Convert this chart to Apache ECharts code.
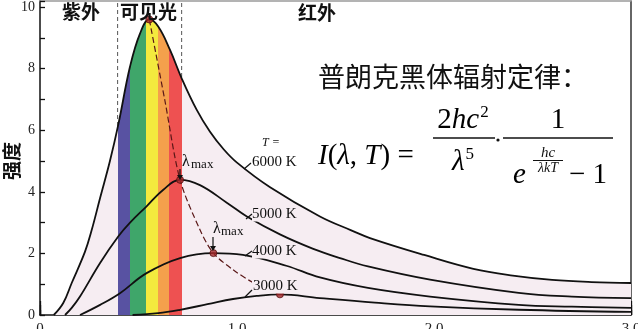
<!DOCTYPE html>
<html><head><meta charset="utf-8">
<script src="https://cdn.jsdelivr.net/npm/echarts@6/dist/echarts.min.js"></script>
<style>html,body{margin:0;padding:0;background:#fff}#c{width:638px;height:329px}</style>
</head><body><div id="c"></div>
<script>
// ---- data (x: wavelength, y: intensity) ----
const curve6000 = [[0.07,0],[0.118,0.39],[0.161,1.04],[0.228,2.05],[0.262,2.75],[0.305,3.8],[0.355,5.0],[0.398,6.2],[0.457,8.07],[0.508,9.15],[0.555,9.6],[0.6,9.37],[0.66,8.61],[0.719,7.69],[0.795,6.67],[0.863,5.95],[0.93,5.4],[1.0,4.95],[1.168,4.15],[1.421,3.2],[1.58,2.75],[1.675,2.5],[1.95,1.95],[2.2,1.5],[2.4,1.28],[2.6,1.14],[2.8,1.07],[3.0,1.04]];
const curve5000 = [[0.127,0],[0.161,0.23],[0.203,0.6],[0.305,1.69],[0.397,2.55],[0.457,3.0],[0.541,3.53],[0.626,4.07],[0.711,4.39],[0.812,4.22],[0.95,3.64],[1.05,3.2],[1.218,2.62],[1.387,2.15],[1.523,1.85],[1.665,1.58],[1.98,1.15],[2.43,0.72],[2.7,0.6],[3.0,0.55]];
const curve4000 = [[0.203,0],[0.305,0.33],[0.406,0.71],[0.541,1.36],[0.711,1.85],[0.88,2.01],[1.03,1.95],[1.25,1.6],[1.421,1.22],[1.665,0.88],[1.98,0.6],[2.43,0.33],[2.7,0.27],[3.0,0.23]];
const curve3000 = [[0.47,0],[0.6,0.06],[0.711,0.17],[0.85,0.35],[0.98,0.52],[1.1,0.62],[1.218,0.67],[1.42,0.55],[1.7,0.4],[1.98,0.28],[2.43,0.17],[3.0,0.1]];
const peaks = [[0.555,9.6],[0.711,4.39],[0.88,2.01],[1.218,0.67]];
const lambdaMaxLocus = [[0.555,9.6],[0.633,7.0],[0.711,4.39],[0.812,2.77],[0.88,2.01],[0.98,1.47],[1.083,1.05],[1.218,0.67]];
const bandEdges = [0.394,0.457,0.538,0.599,0.656,0.719];
const bandColors = ['#5852a2','#3fa66a','#f3ea3e','#f4a04c','#ee5151'];
const xTickLabels = ['0','1.0','2.0','3.0'];
const yMax = 10.2, xMax = 3;

const pink = '#f6edf2';
const serif = 'Liberation Serif';
const cjk = 'Noto Sans CJK SC';

const pieces = [{lt: bandEdges[0], color: pink}];
for (let i = 0; i < bandColors.length; i++) pieces.push({gte: bandEdges[i], lt: bandEdges[i+1], color: bandColors[i]});
pieces.push({gte: bandEdges[bandEdges.length-1], color: pink});

const grid = {left:40, right:7, top:1, bottom:14, outerBoundsMode:'none', containLabel:false};
const baseX = {type:'value', min:0, max:xMax, gridIndex:0, position:'bottom', splitLine:{show:false}, axisLabel:{show:false}};
const chart = echarts.init(document.getElementById('c'), null, {renderer:'canvas'});

function txt(text, x, y, font, extra) {
  return Object.assign({type:'text', x:x, y:y, z:100, silent:true,
    style: Object.assign({text:text, font:font, fill:'#111', align:'left', verticalAlign:'middle', textAlign:'left', textVerticalAlign:'middle'}, extra||{})});
}
function line(x1,y1,x2,y2,w,c){return {type:'line', z:100, silent:true, shape:{x1,y1,x2,y2}, style:{stroke:c||'#111', lineWidth:w||1.2}};}
function tri(x,y){return {type:'polygon', z:100, silent:true, shape:{points:[[x-3,y-5],[x+3,y-5],[x,y]]}, style:{fill:'#111'}};}

const rich = {
  i:{fontFamily:serif, fontStyle:'italic', fontSize:29, color:'#111'},
  n:{fontFamily:serif, fontSize:29, color:'#111'},
  s:{fontFamily:serif, fontSize:17, color:'#111', verticalAlign:'top', padding:[0,0,14,1]}
};
function rt(text, x, y, align, r) {
  return {type:'text', x:x, y:y, z:100, silent:true, style:{text:text, rich:r||rich, align:align||'left', verticalAlign:'middle', textAlign:align||'left', textVerticalAlign:'middle'}};
}

const graphics = [
  txt('紫外', 62, 12, 'bold 19px "'+cjk+'"'),
  txt('可见光', 120, 12, 'bold 19px "'+cjk+'"'),
  txt('红外', 298, 13, 'bold 19px "'+cjk+'"'),
  txt('强度', 12, 161, 'bold 19px "'+cjk+'"', {align:'center', textAlign:'center'}),
  txt('普朗克黑体辐射定律：', 318, 77, '27px "'+cjk+'"'),
  txt('T =', 262, 143, 'italic 12px "'+serif+'"'),
  txt('6000 K', 252, 162, '15px "'+serif+'"'),
  txt('5000 K', 252, 214, '15px "'+serif+'"', {backgroundColor: pink}),
  txt('4000 K', 252, 251, '15px "'+serif+'"', {backgroundColor: pink}),
  txt('3000 K', 252, 286, '15px "'+serif+'"', {backgroundColor: pink, padding:[0,1,0,1]}),
  line(244,169,251,163), line(246,219,252,214), line(245,256,252,251), line(245,297,252,290),
  txt('λ', 182, 162, '16px "'+serif+'"'), txt('max', 191, 165, '13px "'+serif+'"'),
  line(180,169,180,176), tri(180,180),
  txt('λ', 213, 229, '16px "'+serif+'"'), txt('max', 221, 232, '13px "'+serif+'"'),
  line(213,237,213,247), tri(213,251),
  // formula
  rt('{i|I}{n|(}{i|λ}{n|, }{i|T}{n|) =}', 318, 156),
  rt('{n|2}{i|hc}{s|2}', 463, 120, 'center'),
  line(433,138,495,138,1.5),
  rt('{i|λ}{s|5}', 463, 162, 'center'),
  {type:'circle', z:100, silent:true, shape:{cx:498, cy:140, r:1.6}, style:{fill:'#111'}},
  rt('{n|1}', 558, 120, 'center'),
  line(503,138,613,138,1.5),
  rt('{i|e}', 513, 175),
  txt('hc', 548, 153, 'italic 15px "'+serif+'"', {align:'center', textAlign:'center'}),
  line(533,160.5,563,160.5,1),
  txt('λkT', 548, 168, 'italic 14px "'+serif+'"', {align:'center', textAlign:'center'}),
  rt('{n|− 1}', 569, 175)
];
// rotate the y-axis title like an axis name
graphics[3].rotation = Math.PI / 2;

const curveLine = (name, data, z, extra) => Object.assign({
  name, type:'line', data, smooth:0.4, symbol:'none', silent:true, z:z,
  lineStyle:{color:'#111', width:1.8}
}, extra||{});

const option = {
  animation:false,
  backgroundColor:'#fff',
  grid: grid,
  visualMap: {type:'piecewise', show:false, dimension:0, seriesIndex:0, pieces: pieces, outOfRange:{color:pink}},
  xAxis: [
    Object.assign({}, baseX, {interval:0.1, axisLine:{show:true, onZero:false, lineStyle:{color:'#111', width:1.5}}, axisTick:{show:true, inside:true, length:5, lineStyle:{color:'#111', width:1.3}}}),
    Object.assign({}, baseX, {interval:0.5, axisLine:{show:false}, axisTick:{show:true, inside:true, length:10, lineStyle:{color:'#111', width:1.3}}}),
    Object.assign({}, baseX, {interval:1, axisLine:{show:false}, axisTick:{show:true, inside:true, length:14, lineStyle:{color:'#111', width:1.3}},
      axisLabel:{show:true, margin:7, fontFamily:serif, fontSize:15, color:'#222', formatter:(v)=> xTickLabels[Math.round(v)]}}),
    Object.assign({}, baseX, {position:'top', axisLine:{show:true, onZero:false, lineStyle:{color:'#9a9a9a', width:1.5}}, axisTick:{show:false}})
  ],
  yAxis: [
    {type:'value', min:0, max:yMax, interval:1, position:'left', splitLine:{show:false},
     axisLine:{show:true, onZero:false, lineStyle:{color:'#111', width:1.5}},
     axisTick:{show:true, inside:true, length:5, lineStyle:{color:'#111', width:1.3}},
     axisLabel:{margin:5, fontFamily:serif, fontSize:14, color:'#222', formatter:(v)=> (Math.abs(v - Math.round(v))<1e-6 && Math.round(v)%2===0) ? String(Math.round(v)) : ''}},
    {type:'value', min:0, max:yMax, position:'right', splitLine:{show:false}, axisLabel:{show:false}, axisTick:{show:false},
     axisLine:{show:true, onZero:false, lineStyle:{color:'#333', width:1.5}}}
  ],
  series: [
    curveLine('6000 K', curve6000, 2, {areaStyle:{opacity:1}}),
    curveLine('5000 K', curve5000, 3),
    curveLine('4000 K', curve4000, 3),
    curveLine('3000 K', curve3000, 3),
    {type:'line', data:[[bandEdges[0],0],[bandEdges[0],yMax]], symbol:'none', silent:true, z:1, lineStyle:{color:'#555', width:1, type:[4,3]}},
    {type:'line', data:[[bandEdges[5],0],[bandEdges[5],yMax]], symbol:'none', silent:true, z:1, lineStyle:{color:'#555', width:1, type:[4,3]}},
    {type:'line', data:lambdaMaxLocus, smooth:0.3, symbol:'none', silent:true, z:4, lineStyle:{color:'#5a1717', width:1.2, type:[6,3]}},
    {type:'scatter', data:peaks, symbol:'circle', symbolSize:7, silent:true, z:5, itemStyle:{color:'#a3282a', borderColor:'#5a0f0f', borderWidth:1}}
  ],
  graphic: graphics
};
chart.setOption(option);
</script></body></html>
